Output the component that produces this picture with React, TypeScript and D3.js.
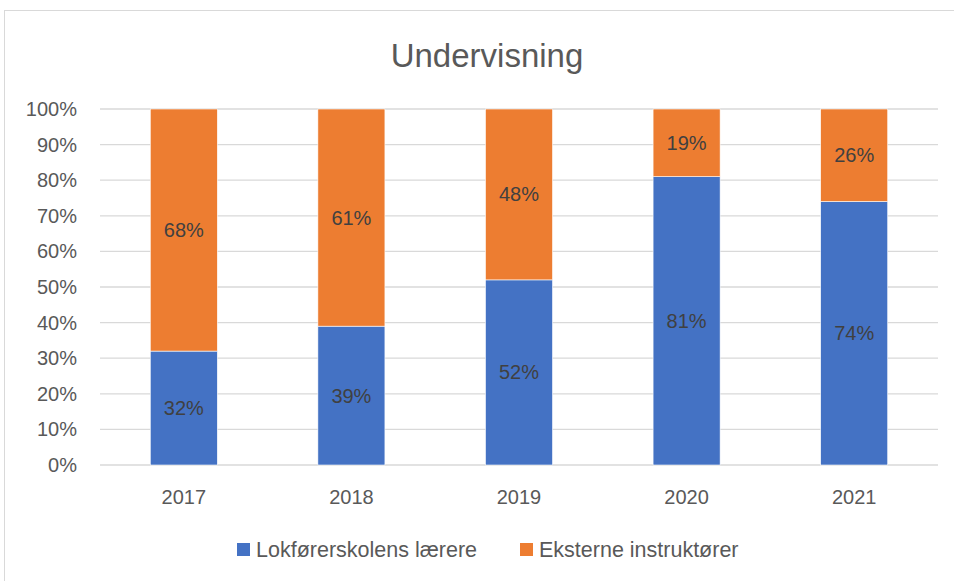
import React, { useRef, useEffect } from 'react';
import * as d3 from 'd3';

const years = ['2017', '2018', '2019', '2020', '2021'];
const lokforer = [32, 39, 52, 81, 74];
const eksterne = [68, 61, 48, 19, 26];
const seriesNames = ['Lokførerskolens lærere', 'Eksterne instruktører'];
const colors = ['#4472c4', '#ed7d31'];
const yTicks = [0, 10, 20, 30, 40, 50, 60, 70, 80, 90, 100];

const W = 954;
const H = 581;
const font = "'Liberation Sans', Arial, sans-serif";

const App = () => {
  const ref = useRef<SVGSVGElement>(null);

  useEffect(() => {
    const svg = d3.select(ref.current);
    svg.selectAll('*').remove();

    // outer chart frame
    svg.append('rect')
      .attr('x', 4.5).attr('y', 10.5)
      .attr('width', W + 10).attr('height', H + 10)
      .attr('fill', 'white').attr('stroke', '#d9d9d9');

    svg.append('text')
      .attr('x', 487).attr('y', 67)
      .attr('text-anchor', 'middle')
      .attr('font-family', font).attr('font-size', 33)
      .attr('fill', '#595959')
      .text('Undervisning');

    const x = d3.scaleBand().domain(years).range([100, 938]).paddingInner(0.6).paddingOuter(0.3);
    const y = d3.scaleLinear().domain([0, 100]).range([465, 109]);

    const grid = svg.append('g');
    grid.selectAll('line').data(yTicks).join('line')
      .attr('x1', 100).attr('x2', 938)
      .attr('y1', d => y(d)).attr('y2', d => y(d))
      .attr('stroke', '#d9d9d9').attr('stroke-width', 1.3);

    svg.append('g').selectAll('text').data(yTicks).join('text')
      .attr('x', 77).attr('y', d => y(d) + 7)
      .attr('text-anchor', 'end')
      .attr('font-family', font).attr('font-size', 20)
      .attr('fill', '#595959')
      .text(d => d + '%');

    const stacked = years.map((yr, i) => ({ yr, vals: [lokforer[i], eksterne[i]] }));

    stacked.forEach(s => {
      let base = 0;
      s.vals.forEach((v, k) => {
        svg.append('rect')
          .attr('x', x(s.yr)!)
          .attr('width', x.bandwidth())
          .attr('y', y(base + v))
          .attr('height', y(base) - y(base + v))
          .attr('fill', colors[k])
          .attr('stroke', 'white').attr('stroke-width', 0.6);
        svg.append('text')
          .attr('x', x(s.yr)! + x.bandwidth() / 2)
          .attr('y', y(base + v / 2) + 7)
          .attr('text-anchor', 'middle')
          .attr('font-family', font).attr('font-size', 20)
          .attr('fill', '#404040')
          .text(v + '%');
        base += v;
      });
    });

    svg.append('g').selectAll('text').data(years).join('text')
      .attr('x', d => x(d)! + x.bandwidth() / 2)
      .attr('y', 504)
      .attr('text-anchor', 'middle')
      .attr('font-family', font).attr('font-size', 20)
      .attr('fill', '#595959')
      .text(d => d);

    const legendX = [237, 520];
    seriesNames.forEach((name, k) => {
      svg.append('rect')
        .attr('x', legendX[k]).attr('y', 543)
        .attr('width', 13).attr('height', 13)
        .attr('fill', colors[k]);
      svg.append('text')
        .attr('x', legendX[k] + 19).attr('y', 557)
        .attr('font-family', font).attr('font-size', 21.5)
        .attr('fill', '#595959')
        .text(name);
    });
  }, []);

  return (
    <svg ref={ref} width={W} height={H} style={{ position: 'absolute', left: 0, top: 0 }} />
  );
};

export default App;
